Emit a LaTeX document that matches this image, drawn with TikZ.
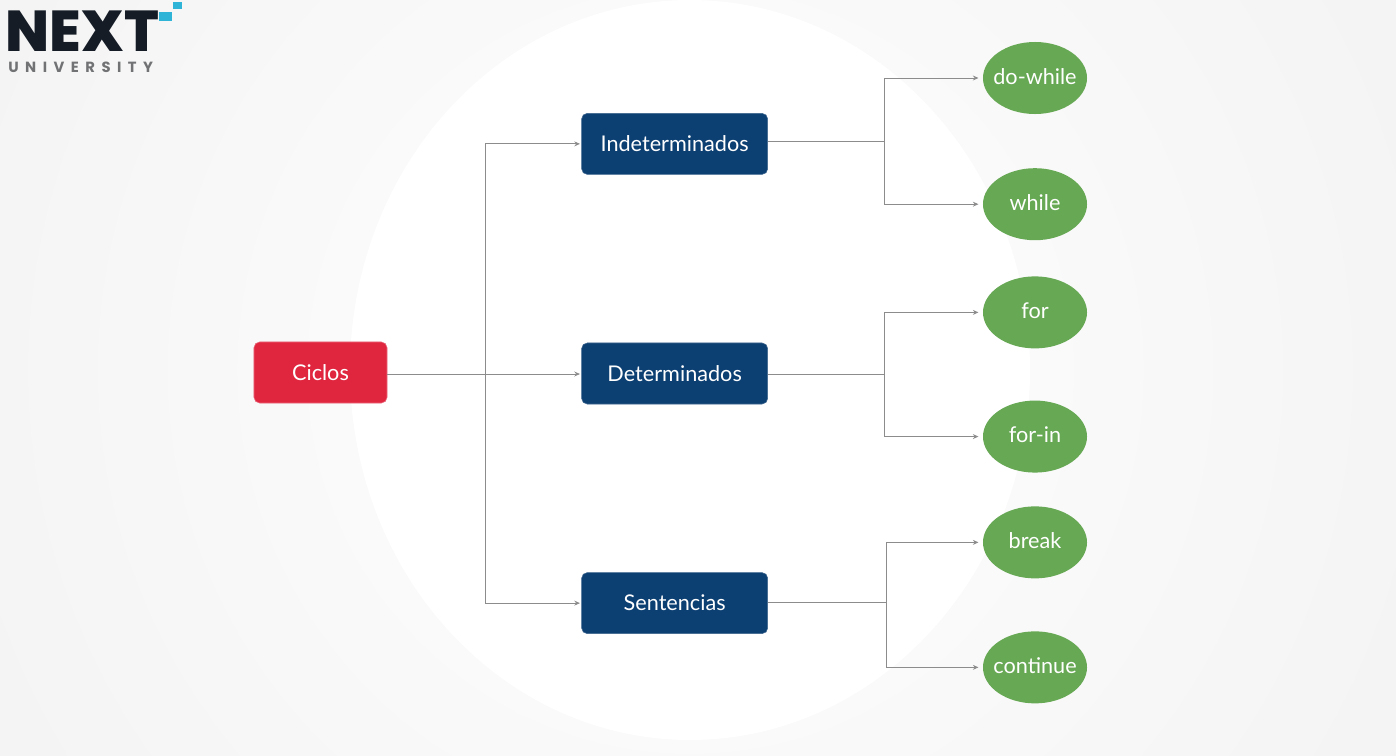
\documentclass[tikz,border=0pt]{standalone}
\usepackage{fontspec}
\setmainfont{Lato}
\newfontfamily\logofont[BoldFont={Poppins ExtraBold}]{Poppins}
\newfontfamily\logosub[LetterSpace=44]{Poppins}
\usetikzlibrary{positioning, shapes.geometric, arrows.meta}

\definecolor{redbox}{HTML}{E0263F}
\definecolor{bluebox}{HTML}{0C3F72}
\definecolor{greenleaf}{HTML}{66A853}
\definecolor{linegray}{HTML}{8C8C8C}
\definecolor{logodark}{HTML}{151C26}
\definecolor{logogray}{HTML}{707274}
\definecolor{logocyan}{HTML}{2FB4D8}

\begin{document}
\begin{tikzpicture}[
  x=0.025cm, y=-0.025cm,
  font=\fontsize{15.4}{18}\selectfont,
  root/.style={draw=redbox!70!white, fill=redbox, rounded corners=4pt, minimum width=3.325cm,
               minimum height=1.525cm, text=white, inner sep=0pt},
  group/.style={draw=bluebox!80!white, fill=bluebox, rounded corners=4pt, minimum width=4.65cm,
                minimum height=1.525cm, text=white, inner sep=0pt},
  leaf/.style={ellipse, fill=greenleaf, minimum width=2.6cm, minimum height=1.8cm,
               text=white, inner xsep=-0.3cm, inner ysep=0pt, text height=2.05ex, text depth=0.3ex},
  link/.style={-{Stealth[length=4pt, width=3.5pt]}, draw=linegray, line width=0.7pt, shorten >=1pt},
  leaflink/.style={link, shorten >=3pt},
  line/.style={draw=linegray, line width=0.7pt},
  logosquare/.style={fill=logocyan, inner sep=0pt},
]

% background
\useasboundingbox (0,0) rectangle (1396,756);
\begin{scope}
  \clip (0,0) rectangle (1396,756);
  \shade[inner color=white, outer color=black!9] (690,370) circle (1600);
  \fill[white] (690,370) ellipse (340 and 370);
\end{scope}

% logo
\node[inner sep=0pt, text=logodark, anchor=base west]
    (next) at (5.5,52) {\fontsize{41}{41}\selectfont\logofont\bfseries NEXT};
\node[inner sep=0pt, text=logogray, anchor=base west]
    (univ) at (8,72) {\fontsize{10.5}{11}\selectfont\logosub\bfseries UNIVERSITY};
\node[logosquare, minimum width=0.325cm, minimum height=0.225cm] (sqa) at (165.5,16.5) {};
\node[logosquare, minimum width=0.225cm, minimum height=0.175cm] (sqb) at (177.5,5.5) {};

% boxes
\node[root] (ciclos) at (320.5,372.5) {Ciclos};
\node[group, right=4.85cm of ciclos, yshift=-0.025cm] (det) {Determinados};
\node[group, above=4.2cm of det] (indet) {Indeterminados};
\node[group, below=4.2cm of det] (sent) {Sentencias};

% leaves
\node[leaf] (dowhile) at (1035,78) {do-while};
\node[leaf, below=1.34cm of dowhile] (while) {while};
\node[leaf, below=0.89cm of while] (for) {for};
\node[leaf, below=1.29cm of for] (forin) {for-in};
\node[leaf, below=0.83cm of forin] (break) {break};
\node[leaf, below=1.31cm of break] (continue) {continue};

% junctions
\coordinate (trunk) at (485,374);
\coordinate (forkindet) at (884,141);
\coordinate (forkdet) at (884,374);
\coordinate (forksent) at (886,602);

\draw[line] (ciclos.east |- trunk) -- (trunk);
\draw[link] (trunk) |- (indet.west);
\draw[link] (trunk) -- (det.west |- trunk);
\draw[link] (trunk) |- (sent.west);

\draw[line] (indet.east |- forkindet) -- (forkindet);
\draw[leaflink] (forkindet) |- (dowhile.west);
\draw[leaflink] (forkindet) |- (while.west);

\draw[line] (det.east |- forkdet) -- (forkdet);
\draw[leaflink] (forkdet) |- (for.west);
\draw[leaflink] (forkdet) |- (forin.west);

\draw[line] (sent.east |- forksent) -- (forksent);
\draw[leaflink] (forksent) |- (break.west);
\draw[leaflink] (forksent) |- (continue.west);

\end{tikzpicture}
\end{document}
